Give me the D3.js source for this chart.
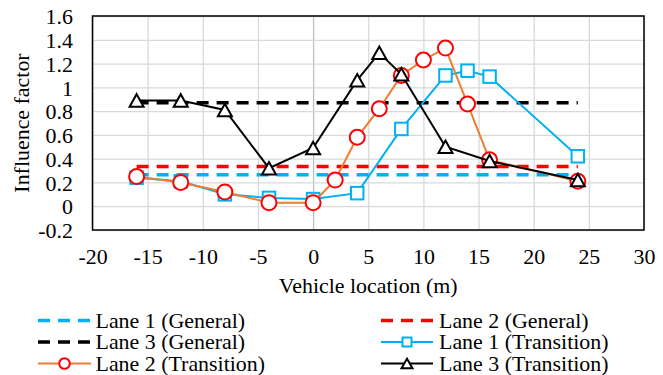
<!DOCTYPE html>
<html>
<head>
<meta charset="utf-8">
<script src="https://cdn.jsdelivr.net/npm/d3@7"></script>
<style>
  body { margin: 0; background: #fff; }
  svg text { font-family: "Liberation Serif", "Times New Roman", Times, Tinos, "Noto Serif", "DejaVu Serif", serif; fill: #000; }
</style>
</head>
<body>
<div id="chart"></div>
<script>
// data
var x_ticks = [-20, -15, -10, -5, 0, 5, 10, 15, 20, 25, 30],
    y_ticks = [-0.2, 0, 0.2, 0.4, 0.6, 0.8, 1, 1.2, 1.4, 1.6];

var general_x = [-16, 24],
    lane1_general = 0.265,
    lane2_general = 0.335,
    lane3_general = 0.87;

var lane1_x = [-16, -12, -8, -4, 0, 4, 8, 12, 14, 16, 24],
    lane1_trans = [0.24, 0.21, 0.10, 0.07, 0.06, 0.11, 0.65, 1.10, 1.14, 1.09, 0.42];
var lane2_x = [-16, -12, -8, -4, 0, 2, 4, 6, 8, 10, 12, 14, 16, 24],
    lane2_trans = [0.25, 0.20, 0.12, 0.03, 0.03, 0.22, 0.58, 0.82, 1.10, 1.23, 1.33, 0.86, 0.39, 0.21];
var lane3_x = [-16, -12, -8, -4, 0, 4, 6, 8, 12, 16, 24],
    lane3_trans = [0.89, 0.89, 0.81, 0.32, 0.49, 1.06, 1.29, 1.11, 0.50, 0.38, 0.22];

var legend_labels = ['Lane 1 (General)', 'Lane 2 (General)', 'Lane 3 (General)',
                     'Lane 1 (Transition)', 'Lane 2 (Transition)', 'Lane 3 (Transition)'];

// colours
var c_blue = '#00b0f0', c_red = '#ff0000', c_orange = '#ed7d31', c_black = '#000000';

// sizes
var width = 663, height = 375,
    plot = {left: 92.5, right: 644, top: 16, bottom: 230};

var svg = d3.select('#chart').append('svg')
    .attr('width', width)
    .attr('height', height);

// fit the font size to the reference text width (Times-like, 179px for the x title)
var probe = svg.append('text').style('font-size', '20px').text('Vehicle location (m)');
var font_size = Math.min(22, 20 * 179 / probe.node().getComputedTextLength());
probe.remove();

// scales
var x = d3.scaleLinear().domain([-20, 30]).range([plot.left, plot.right]),
    y = d3.scaleLinear().domain([-0.2, 1.6]).range([plot.bottom, plot.top]);

// gridlines
svg.append('g')
    .attr('transform', 'translate(0,' + plot.bottom + ')')
    .call(d3.axisBottom(x).tickValues(x_ticks).tickSize(-(plot.bottom - plot.top)).tickFormat(''))
    .call(function(g) { g.select('.domain').remove(); })
    .selectAll('line')
    .attr('stroke', function(d) { return d === 0 ? '#bfbfbf' : '#d9d9d9'; })
    .attr('stroke-width', 1.3);

svg.append('g')
    .attr('transform', 'translate(' + plot.left + ',0)')
    .call(d3.axisLeft(y).tickValues(y_ticks).tickSize(-(plot.right - plot.left)).tickFormat(''))
    .call(function(g) { g.select('.domain').remove(); })
    .selectAll('line')
    .attr('stroke', '#d9d9d9')
    .attr('stroke-width', 1.3);

// plot border
svg.append('rect')
    .attr('x', plot.left).attr('y', plot.top)
    .attr('width', plot.right - plot.left).attr('height', plot.bottom - plot.top)
    .attr('fill', 'none').attr('stroke', '#000').attr('stroke-width', 1.5);

// tick labels
var x_axis = svg.append('g')
    .attr('transform', 'translate(0,' + plot.bottom + ')')
    .call(d3.axisBottom(x).tickValues(x_ticks).tickSize(0).tickPadding(0).tickFormat(d3.format('d')));
x_axis.attr('font-family', null).attr('font-size', null);
x_axis.select('.domain').remove();
x_axis.selectAll('text')
    .attr('y', 26.7).attr('dy', '0.35em')
    .style('font-size', font_size + 'px')
    .text(function(d) { return String(d); });

var y_axis = svg.append('g')
    .attr('transform', 'translate(73,0)')
    .call(d3.axisLeft(y).tickValues(y_ticks).tickSize(0).tickPadding(0)
      .tickFormat(function(d) { return d3.format('.1~f')(d).replace('\u2212', '-'); }));
y_axis.attr('font-family', null).attr('font-size', null);
y_axis.select('.domain').remove();
y_axis.selectAll('text')
    .attr('dy', '0.35em')
    .style('font-size', font_size + 'px');

// axis titles
svg.append('text')
    .attr('x', (plot.left + plot.right) / 2).attr('y', 293)
    .attr('text-anchor', 'middle')
    .style('font-size', font_size + 'px')
    .text('Vehicle location (m)');

svg.append('text')
    .attr('transform', 'translate(29,' + ((plot.top + plot.bottom) / 2) + ') rotate(-90)')
    .attr('text-anchor', 'middle')
    .style('font-size', font_size + 'px')
    .text('Influence factor');

// markers
function square(sel, s) { return sel.append('rect').attr('x', -s / 2).attr('y', -s / 2).attr('width', s).attr('height', s); }
function triangle(sel, w, h) { return sel.append('path').attr('d', 'M0,' + (-h / 2) + 'L' + (w / 2) + ',' + (h / 2) + 'L' + (-w / 2) + ',' + (h / 2) + 'Z'); }

var line = d3.line().x(function(d) { return x(d[0]); }).y(function(d) { return y(d[1]); });

// general (dashed) series
[[lane1_general, c_blue], [lane2_general, c_red], [lane3_general, c_black]].forEach(function(s) {
  svg.append('path')
      .attr('d', line(general_x.map(function(v) { return [v, s[0]]; })))
      .attr('fill', 'none').attr('stroke', s[1])
      .attr('stroke-width', 3.5).attr('stroke-dasharray', '12,8');
});

// transition series
var trans = [
  {xs: lane1_x, ys: lane1_trans, line: c_blue, mark: c_blue, shape: 'square'},
  {xs: lane2_x, ys: lane2_trans, line: c_orange, mark: c_red, shape: 'circle'},
  {xs: lane3_x, ys: lane3_trans, line: c_black, mark: c_black, shape: 'triangle'}
];

trans.forEach(function(s) {
  var pts = s.xs.map(function(v, i) { return [v, s.ys[i]]; });
  svg.append('path')
      .attr('d', line(pts))
      .attr('fill', 'none').attr('stroke', s.line).attr('stroke-width', 2);
  var m = svg.append('g').selectAll('g').data(pts).enter().append('g')
      .attr('transform', function(d) { return 'translate(' + x(d[0]) + ',' + y(d[1]) + ')'; });
  var shp;
  if (s.shape === 'square') shp = square(m, 12.5);
  else if (s.shape === 'circle') shp = m.append('circle').attr('r', 7.5);
  else shp = triangle(m, 14, 12.5);
  shp.attr('fill', '#fff').attr('stroke', s.mark).attr('stroke-width', 2);
});

// legend
var legend_rows = [320.5, 342, 363.5],
    legend_cols = [{x0: 38, x1: 91, tx: 95.5}, {x0: 381, x1: 433, tx: 439}],
    legend_items = [
      {col: 0, row: 0, color: c_blue, dash: true},
      {col: 1, row: 0, color: c_red, dash: true},
      {col: 0, row: 1, color: c_black, dash: true},
      {col: 1, row: 1, color: c_blue, mark: c_blue, shape: 'square'},
      {col: 0, row: 2, color: c_orange, mark: c_red, shape: 'circle'},
      {col: 1, row: 2, color: c_black, mark: c_black, shape: 'triangle'}
    ];

legend_items.forEach(function(it, i) {
  var c = legend_cols[it.col], yy = legend_rows[it.row];
  var g = svg.append('g');
  g.append('line')
      .attr('x1', c.x0).attr('x2', c.x1).attr('y1', yy).attr('y2', yy)
      .attr('stroke', it.color)
      .attr('stroke-width', it.dash ? 3.5 : 2)
      .attr('stroke-dasharray', it.dash ? '12,8' : null);
  if (it.shape) {
    var m = g.append('g').attr('transform', 'translate(' + ((c.x0 + c.x1) / 2) + ',' + yy + ')');
    var shp;
    if (it.shape === 'square') shp = square(m, 9);
    else if (it.shape === 'circle') shp = m.append('circle').attr('r', 5.3);
    else shp = triangle(m, 11, 9.5);
    shp.attr('fill', '#fff').attr('stroke', it.mark).attr('stroke-width', 2);
  }
  g.append('text')
      .attr('x', c.tx).attr('y', yy + 7)
      .style('font-size', font_size + 'px')
      .text(legend_labels[i]);
});
</script>
</body>
</html>
